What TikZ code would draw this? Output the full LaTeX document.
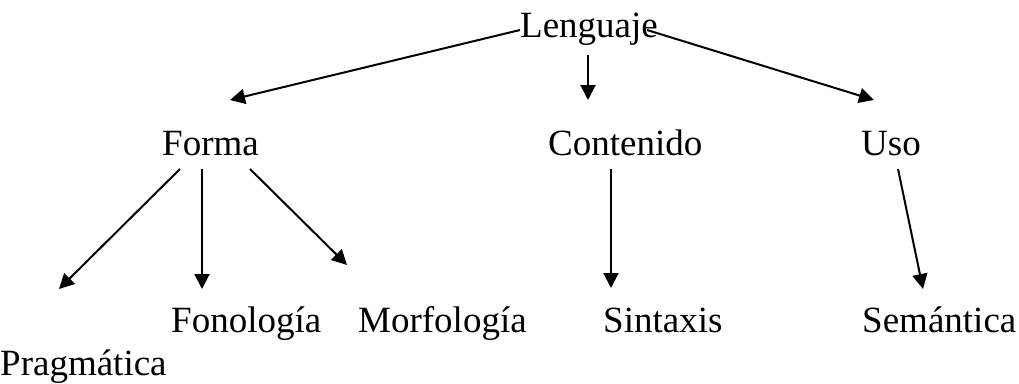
\documentclass[tikz,border=0pt]{standalone}
\usepackage{fontspec}
\setmainfont{Liberation Serif}
\usetikzlibrary{arrows.meta}
\begin{document}
\begin{tikzpicture}[x=1pt,y=-1pt,
  lbl/.style={anchor=base west,inner sep=0pt,font=\fontsize{37}{44}\selectfont},
  conn/.style={line width=2pt,-{Triangle[length=15pt,width=15pt]}}]
\useasboundingbox (0,0) rectangle (1019,383);
\node[lbl] (leng) at (520,37) {Lenguaje};
\node[lbl] (forma) at (162,155) {Forma};
\node[lbl] (cont) at (548,155) {Contenido};
\node[lbl] (uso) at (861,155) {Uso};
\node[lbl] (fono) at (171,332) {Fonología};
\node[lbl] (morf) at (358,332) {Morfología};
\node[lbl] (sint) at (603,332) {Sintaxis};
\node[lbl] (sema) at (862,332) {Semántica};
\node[lbl] (prag) at (0,375) {Pragmática};
% free ends
\coordinate (l1) at (520,30);
\coordinate (l2) at (588,55);
\coordinate (l3) at (647,30);
\coordinate (t1) at (230,100);
\coordinate (t2) at (588,100);
\coordinate (t3) at (874,100);
\coordinate (f1) at (180,169);
\coordinate (f2) at (202,169);
\coordinate (f3) at (250,169);
\coordinate (ft1) at (59,289);
\coordinate (ft2) at (202,289);
\coordinate (ft3) at (347,265);
\coordinate (c1) at (611,169);
\coordinate (ct1) at (611,288);
\coordinate (u1) at (898,169);
\coordinate (ut1) at (923,289);
\draw[conn] (l1) -- (t1);
\draw[conn] (l2) -- (t2);
\draw[conn] (l3) -- (t3);
\draw[conn] (f1) -- (ft1);
\draw[conn] (f2) -- (ft2);
\draw[conn] (f3) -- (ft3);
\draw[conn] (c1) -- (ct1);
\draw[conn] (u1) -- (ut1);
\end{tikzpicture}
\end{document}
